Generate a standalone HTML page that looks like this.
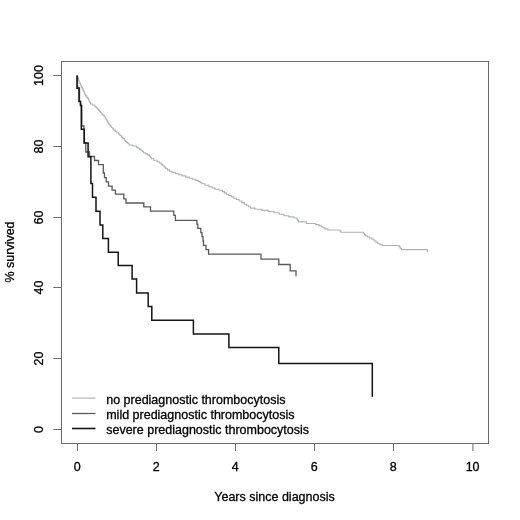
<!DOCTYPE html>
<html><head><meta charset="utf-8"><style>
html,body{margin:0;padding:0;background:#fff;width:520px;height:520px;overflow:hidden}
svg{display:block;will-change:transform}
text{font-family:"Liberation Sans",sans-serif}
</style></head><body>
<svg width="520" height="520" viewBox="0 0 520 520">
<rect width="520" height="520" fill="#fff"/>
<rect x="61.5" y="61.5" width="427" height="382" fill="none" stroke="#6c6c6c" stroke-width="1"/>
<path d="M77.5,443V451 M156.5,443V451 M235.5,443V451 M314.5,443V451 M393.5,443V451 M472.9,443V451 M62,429.5H53.3 M62,358.5H53.3 M62,287.5H53.3 M62,217.5H53.3 M62,146.5H53.3 M62,75.5H53.3" stroke="#6c6c6c" stroke-width="1" fill="none"/>
<text x="77.2" y="470.5" font-family="Liberation Sans, sans-serif" font-size="12.5" text-anchor="middle" fill="#000" stroke="#000" stroke-width="0.3">0</text>
<text x="156.2" y="470.5" font-family="Liberation Sans, sans-serif" font-size="12.5" text-anchor="middle" fill="#000" stroke="#000" stroke-width="0.3">2</text>
<text x="235.2" y="470.5" font-family="Liberation Sans, sans-serif" font-size="12.5" text-anchor="middle" fill="#000" stroke="#000" stroke-width="0.3">4</text>
<text x="314.2" y="470.5" font-family="Liberation Sans, sans-serif" font-size="12.5" text-anchor="middle" fill="#000" stroke="#000" stroke-width="0.3">6</text>
<text x="393.2" y="470.5" font-family="Liberation Sans, sans-serif" font-size="12.5" text-anchor="middle" fill="#000" stroke="#000" stroke-width="0.3">8</text>
<text x="472.6" y="470.5" font-family="Liberation Sans, sans-serif" font-size="12.5" text-anchor="middle" fill="#000" stroke="#000" stroke-width="0.3">10</text>
<text transform="translate(43.3,429.5) rotate(-90)" font-family="Liberation Sans, sans-serif" font-size="12.5" text-anchor="middle" fill="#000" stroke="#000" stroke-width="0.3">0</text>
<text transform="translate(43.3,358.5) rotate(-90)" font-family="Liberation Sans, sans-serif" font-size="12.5" text-anchor="middle" fill="#000" stroke="#000" stroke-width="0.3">20</text>
<text transform="translate(43.3,287.5) rotate(-90)" font-family="Liberation Sans, sans-serif" font-size="12.5" text-anchor="middle" fill="#000" stroke="#000" stroke-width="0.3">40</text>
<text transform="translate(43.3,217.5) rotate(-90)" font-family="Liberation Sans, sans-serif" font-size="12.5" text-anchor="middle" fill="#000" stroke="#000" stroke-width="0.3">60</text>
<text transform="translate(43.3,146.5) rotate(-90)" font-family="Liberation Sans, sans-serif" font-size="12.5" text-anchor="middle" fill="#000" stroke="#000" stroke-width="0.3">80</text>
<text transform="translate(43.3,75.5) rotate(-90)" font-family="Liberation Sans, sans-serif" font-size="12.5" text-anchor="middle" fill="#000" stroke="#000" stroke-width="0.3">100</text>
<text x="274.5" y="500.8" font-family="Liberation Sans, sans-serif" font-size="12.5" text-anchor="middle" fill="#000" stroke="#000" stroke-width="0.3">Years since diagnosis</text>
<text transform="translate(14.2,252) rotate(-90)" font-family="Liberation Sans, sans-serif" font-size="12.5" text-anchor="middle" fill="#000" stroke="#000" stroke-width="0.3">% survived</text>
<polyline points="77.00,75.50 77.25,75.50 77.25,76.80 77.75,76.80 77.75,78.10 78.25,78.10 78.25,79.40 78.75,79.40 78.75,80.70 79.25,80.70 79.25,82.00 79.50,82.00 79.83,82.00 79.83,83.53 80.50,83.53 80.50,85.07 81.17,85.07 81.17,86.60 81.50,86.60 81.83,86.60 81.83,87.73 82.50,87.73 82.50,88.87 83.17,88.87 83.17,90.00 83.50,90.00 83.75,90.00 83.75,91.43 84.25,91.43 84.25,92.87 84.75,92.87 84.75,94.30 85.00,94.30 85.62,94.30 85.62,95.85 86.88,95.85 86.88,97.40 87.50,97.40 87.83,97.40 87.83,98.67 88.50,98.67 88.50,99.93 89.17,99.93 89.17,101.20 89.50,101.20 89.88,101.20 89.88,102.60 90.62,102.60 90.62,104.00 91.00,104.00 92.50,104.00 92.50,105.00 94.00,105.00 94.50,105.00 94.50,106.00 95.50,106.00 95.50,107.00 96.00,107.00 96.50,107.00 96.50,108.00 97.50,108.00 97.50,109.00 98.00,109.00 98.50,109.00 98.50,110.20 99.50,110.20 99.50,111.40 100.00,111.40 100.60,111.40 100.60,112.73 101.80,112.73 101.80,114.05 103.00,114.05 103.00,115.38 104.20,115.38 104.20,116.70 104.80,116.70 105.20,116.70 105.20,118.05 106.00,118.05 106.00,119.40 106.80,119.40 106.80,120.75 107.60,120.75 107.60,122.10 108.40,122.10 108.40,123.45 109.20,123.45 109.20,124.80 109.60,124.80 110.20,124.80 110.20,126.12 111.40,126.12 111.40,127.45 112.60,127.45 112.60,128.78 113.80,128.78 113.80,130.10 114.40,130.10 115.20,130.10 115.20,131.40 116.80,131.40 116.80,132.70 118.40,132.70 118.40,134.00 119.20,134.00 119.92,134.00 119.92,135.55 121.38,135.55 121.38,137.10 122.83,137.10 122.83,138.65 124.28,138.65 124.28,140.20 125.00,140.20 125.60,140.20 125.60,141.40 126.80,141.40 126.80,142.60 128.00,142.60 128.00,143.80 129.20,143.80 129.20,145.00 129.80,145.00 132.70,145.00 132.70,146.00 135.60,146.00 136.40,146.00 136.40,147.10 138.00,147.10 138.00,148.20 139.60,148.20 139.60,149.30 140.40,149.30 141.03,149.30 141.03,150.43 142.30,150.43 142.30,151.57 143.57,151.57 143.57,152.70 144.20,152.70 145.40,152.70 145.40,153.90 147.80,153.90 147.80,155.10 149.00,155.10 149.50,155.10 149.50,156.33 150.50,156.33 150.50,157.57 151.50,157.57 151.50,158.80 152.00,158.80 153.70,158.80 153.70,160.25 157.10,160.25 157.10,161.70 158.80,161.70 159.57,161.70 159.57,163.06 161.11,163.06 161.11,164.42 162.65,164.42 162.65,165.78 164.19,165.78 164.19,167.14 165.73,167.14 165.73,168.50 166.50,168.50 167.47,168.50 167.47,169.90 169.43,169.90 169.43,171.30 170.40,171.30 172.00,171.30 172.00,172.40 175.20,172.40 175.20,173.50 178.40,173.50 178.40,174.60 180.00,174.60 181.93,174.60 181.93,175.85 185.77,175.85 185.77,177.10 187.70,177.10 189.30,177.10 189.30,178.20 192.50,178.20 192.50,179.30 195.70,179.30 195.70,180.40 197.30,180.40 198.25,180.40 198.25,181.53 200.15,181.53 200.15,182.67 202.05,182.67 202.05,183.80 203.00,183.80 204.95,183.80 204.95,185.25 208.85,185.25 208.85,186.70 210.80,186.70 212.23,186.70 212.23,187.95 215.07,187.95 215.07,189.20 216.50,189.20 219.00,189.20 219.00,190.30 221.50,190.30 222.47,190.30 222.47,191.60 224.40,191.60 224.40,192.90 226.33,192.90 226.33,194.20 227.30,194.20 228.60,194.20 228.60,195.52 231.20,195.52 231.20,196.85 233.80,196.85 233.80,198.18 236.40,198.18 236.40,199.50 237.70,199.50 239.05,199.50 239.05,201.07 241.75,201.07 241.75,202.63 244.45,202.63 244.45,204.20 245.80,204.20 246.75,204.20 246.75,205.50 248.65,205.50 248.65,206.80 250.55,206.80 250.55,208.10 251.50,208.10 254.97,208.10 254.97,209.25 261.92,209.25 261.92,210.40 265.40,210.40 268.27,210.40 268.27,211.55 274.02,211.55 274.02,212.70 276.90,212.70 279.22,212.70 279.22,214.20 283.88,214.20 283.88,215.70 286.20,215.70 288.77,215.70 288.77,216.85 293.93,216.85 293.93,218.00 296.50,218.00 296.88,218.00 296.88,219.30 297.65,219.30 297.65,220.60 298.42,220.60 298.42,221.90 298.80,221.90 306.35,221.90 306.35,223.50 313.90,223.50 315.62,223.50 315.62,224.65 319.07,224.65 319.07,225.80 320.80,225.80 321.48,225.80 321.48,226.75 322.82,226.75 322.82,227.70 323.50,227.70 324.93,227.70 324.93,228.85 327.77,228.85 327.77,230.00 329.20,230.00 334.40,230.00 334.40,230.00 339.60,230.00 340.00,230.00 340.00,231.15 340.80,231.15 340.80,232.30 341.20,232.30 351.95,232.30 351.95,232.30 362.70,232.30 363.28,232.30 363.28,233.47 364.45,233.47 364.45,234.63 365.62,234.63 365.62,235.80 366.20,235.80 367.33,235.80 367.33,236.93 369.60,236.93 369.60,238.07 371.87,238.07 371.87,239.20 373.00,239.20 373.97,239.20 373.97,240.73 375.90,240.73 375.90,242.27 377.83,242.27 377.83,243.80 378.80,243.80 379.98,243.80 379.98,244.65 382.32,244.65 382.32,245.50 383.50,245.50 391.00,245.50 391.00,245.50 398.50,245.50 399.07,245.50 399.07,246.87 400.20,246.87 400.20,248.23 401.33,248.23 401.33,249.60 401.90,249.60 414.60,249.60 414.60,249.60 427.30,249.60 427.30,249.60 427.30,251.05 427.30,251.05 427.30,252.50 427.30,252.50" fill="none" stroke="#b0b4b0" stroke-width="1.1" stroke-linejoin="miter"/>
<polyline points="77.50,75.50 77.50,88.00 79.50,88.00 79.50,101.40 80.50,101.40 80.50,105.40 81.80,105.40 81.80,126.00 84.00,126.00 84.00,143.00 85.80,143.00 85.80,152.00 89.50,152.00 89.50,156.50 94.50,156.50 94.50,160.50 98.50,160.50 98.50,164.60 103.30,164.60 103.30,173.00 104.50,173.00 104.50,177.70 106.20,177.70 106.20,181.90 108.50,181.90 108.50,186.20 112.10,186.20 112.10,190.20 115.40,190.20 115.40,194.20 123.80,194.20 123.80,198.90 126.00,198.90 126.00,203.00 143.80,203.00 143.80,206.90 150.50,206.90 150.50,211.20 173.80,211.20 173.80,215.40 175.40,215.40 175.40,220.40 196.90,220.40 196.90,224.10 197.80,224.10 197.80,228.40 200.80,228.40 200.80,232.70 202.00,232.70 202.00,236.60 203.00,236.60 203.00,241.00 203.50,241.00 203.50,245.30 206.00,245.30 206.00,249.60 208.60,249.60 208.60,254.10 261.00,254.10 261.00,259.20 278.80,259.20 278.80,264.50 290.20,264.50 290.20,270.80 296.00,270.80 296.00,276.20" fill="none" stroke="#5a5a5a" stroke-width="1.3"/>
<polyline points="77.00,75.50 77.00,88.30 79.00,88.30 79.00,101.60 80.50,101.60 80.50,105.40 81.30,105.40 81.30,129.30 84.30,129.30 84.30,143.10 88.10,143.10 88.10,156.80 90.90,156.80 90.90,183.40 92.50,183.40 92.50,197.20 96.00,197.20 96.00,211.20 100.00,211.20 100.00,225.00 102.80,225.00 102.80,238.50 108.40,238.50 108.40,252.20 118.20,252.20 118.20,265.60 132.10,265.60 132.10,279.00 136.60,279.00 136.60,293.00 148.20,293.00 148.20,306.60 151.80,306.60 151.80,320.20 193.40,320.20 193.40,333.90 228.90,333.90 228.90,347.40 278.80,347.40 278.80,363.60 372.30,363.60 372.30,396.80" fill="none" stroke="#151515" stroke-width="1.5"/>
<line x1="72" y1="398.1" x2="95.5" y2="398.1" stroke="#b0b4b0" stroke-width="1.2"/>
<text x="106.2" y="403.8" font-family="Liberation Sans, sans-serif" font-size="12.5" fill="#000" stroke="#000" stroke-width="0.3">no prediagnostic thrombocytosis</text>
<line x1="72" y1="413.5" x2="95.5" y2="413.5" stroke="#5a5a5a" stroke-width="1.3"/>
<text x="106.2" y="419.1" font-family="Liberation Sans, sans-serif" font-size="12.5" fill="#000" stroke="#000" stroke-width="0.3">mild prediagnostic thrombocytosis</text>
<line x1="72" y1="428.5" x2="95.5" y2="428.5" stroke="#151515" stroke-width="1.6"/>
<text x="106.2" y="434.0" font-family="Liberation Sans, sans-serif" font-size="12.5" fill="#000" stroke="#000" stroke-width="0.3">severe prediagnostic thrombocytosis</text>
</svg>
</body></html>
